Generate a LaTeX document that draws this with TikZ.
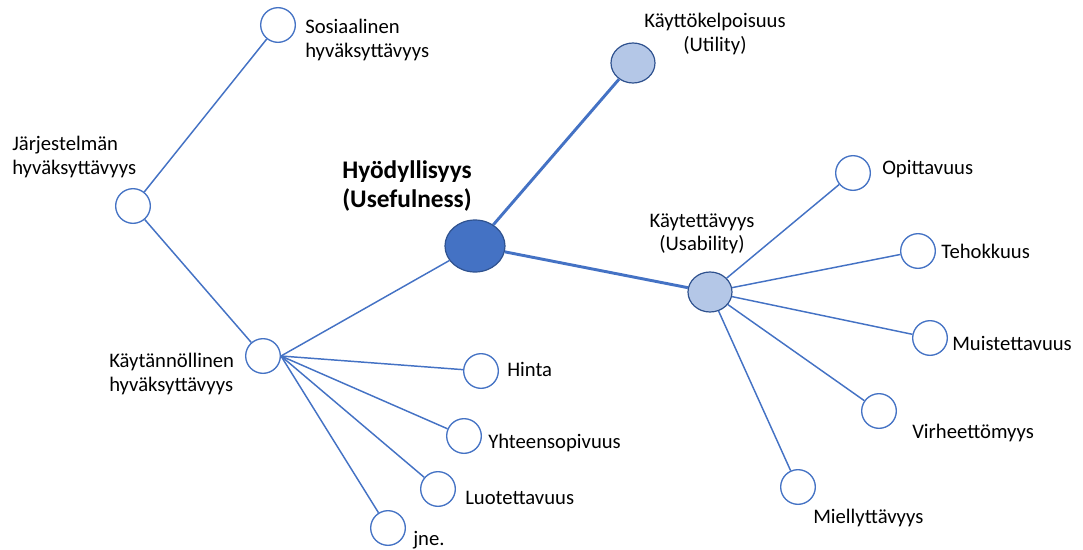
\documentclass[tikz,border=0pt]{standalone}
\usepackage{fontspec}
\setmainfont{Carlito}
\usetikzlibrary{shapes.geometric,positioning}
\definecolor{linkblue}{HTML}{4472C4}
\definecolor{rimblue}{HTML}{2F528F}
\definecolor{paleblue}{HTML}{B4C7E7}

\begin{document}
\begin{tikzpicture}[x=0.75pt,y=-0.75pt,
    leaf/.style={circle,draw=linkblue,line width=1pt,fill=white,inner sep=0pt,minimum size=26pt},
    hub/.style={ellipse,draw=rimblue,line width=0.9pt,fill=paleblue,inner sep=0pt,minimum width=33pt,minimum height=30pt},
    core/.style={ellipse,draw=rimblue,line width=0.9pt,fill=linkblue,inner sep=0pt,minimum width=45pt,minimum height=39pt},
    lbl/.style={inner sep=0pt,font=\fontsize{15.5}{17.5}\selectfont},
    link/.style={draw=linkblue,line width=1.1pt},
    mainlink/.style={draw=linkblue,line width=2.2pt}]
  \useasboundingbox (0,0) rectangle (1083,550);

  % acceptability branch
  \node[leaf] (sos)  at (278,25)  {};
  \node[leaf] (jarj) at (133,206) {};
  \node[leaf] (kayt) at (263,356) {};
  \node[lbl,align=left,anchor=west] (sos-l)  at (305,40)  {Sosiaalinen\\hyväksyttävyys};
  \node[lbl,align=left,anchor=west] (jarj-l) at (12,157)  {Järjestelmän\\hyväksyttävyys};
  \node[lbl,align=left,anchor=west] (kayt-l) at (109,374) {Käytännöllinen\\hyväksyttävyys};

  \node[leaf] (hinta) at (481,371) {};
  \node[leaf] (yht)   at (464,436) {};
  \node[leaf] (luot)  at (438,489) {};
  \node[leaf] (jne)   at (388,528) {};
  \node[lbl,anchor=base west] (hinta-l) at (507,376) {Hinta};
  \node[lbl,anchor=base west] (yht-l)   at (488,448) {Yhteensopivuus};
  \node[lbl,anchor=base west] (luot-l)  at (465,504) {Luotettavuus};
  \node[lbl,anchor=base west] (jne-l)   at (413,545) {jne.};

  % usefulness
  \node[core] (hyo) at (475,246) {};
  \node[lbl,align=center,font=\bfseries\fontsize{19}{21.5}\selectfont] (hyo-l) at (407,186) {Hyödyllisyys\\(Usefulness)};
  \node[hub] (util) at (633,63)  {};
  \node[hub] (usab) at (710,292) {};
  \node[lbl,align=center] (util-l) at (715,34)  {Käyttökelpoisuus\\(Utility)};
  \node[lbl,align=center] (usab-l) at (702,234) {Käytettävyys\\(Usability)};

  % usability attributes
  \node[leaf] (opi)   at (853,173) {};
  \node[leaf] (teho)  at (918,251) {};
  \node[leaf] (muist) at (930,338) {};
  \node[leaf] (virhe) at (879,411) {};
  \node[leaf] (miell) at (798,487) {};
  \node[lbl,anchor=base west] (opi-l)   at (882,174) {Opittavuus};
  \node[lbl,anchor=base west] (teho-l)  at (941,258) {Tehokkuus};
  \node[lbl,anchor=base west] (muist-l) at (952,350) {Muistettavuus};
  \node[lbl,anchor=base west] (virhe-l) at (912,438) {Virheettömyys};
  \node[lbl,anchor=base west] (miell-l) at (813,523) {Miellyttävyys};

  \path[link] (jarj) edge (sos) (jarj) edge (kayt) (kayt.east) edge (hyo);
  \path[mainlink] (hyo) edge (util) (hyo) edge (usab);
  \foreach \n in {hinta,yht,luot,jne}
    \draw[link] (kayt.east) -- (\n);
  \foreach \n in {opi,teho,muist,virhe,miell}
    \draw[link] (usab) -- (\n);
\end{tikzpicture}
\end{document}
